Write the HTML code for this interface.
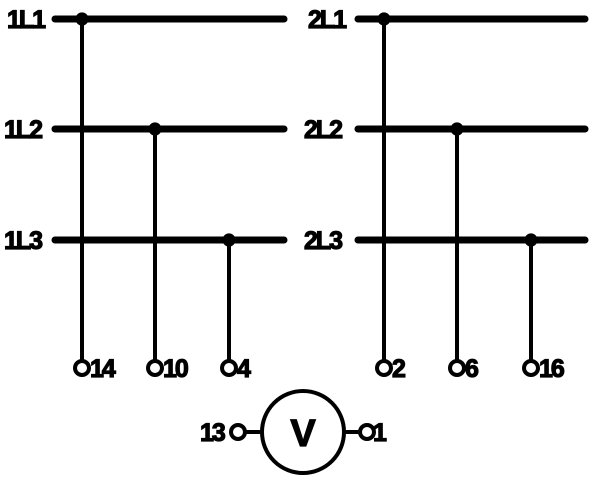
<!DOCTYPE html>
<html><head><style>body{margin:0;background:#fff}</style></head><body>
<svg width="600" height="478" viewBox="0 0 600 478" xmlns="http://www.w3.org/2000/svg" font-family="Liberation Sans, sans-serif" font-weight="bold" font-size="25">
<g stroke="#000" stroke-linecap="round" fill="none">
<line x1="55" y1="19" x2="284" y2="19" stroke-width="7"/>
<line x1="55" y1="129" x2="284" y2="129" stroke-width="7"/>
<line x1="55" y1="240" x2="284" y2="240" stroke-width="7"/>
<line x1="358" y1="19" x2="585" y2="19" stroke-width="7"/>
<line x1="358" y1="129" x2="585" y2="129" stroke-width="7"/>
<line x1="358" y1="240" x2="585" y2="240" stroke-width="7"/>
<g stroke-width="4">
<line x1="82" y1="19" x2="82" y2="361"/>
<line x1="155" y1="129" x2="155" y2="361"/>
<line x1="229" y1="240" x2="229" y2="361"/>
<line x1="384" y1="19" x2="384" y2="361"/>
<line x1="457" y1="129" x2="457" y2="361"/>
<line x1="531" y1="240" x2="531" y2="361"/>
<circle cx="82" cy="368" r="7"/><circle cx="155" cy="368" r="7"/><circle cx="229" cy="368" r="7"/>
<circle cx="384" cy="368" r="7"/><circle cx="457" cy="368" r="7"/><circle cx="531" cy="368" r="7"/>
<circle cx="303" cy="432" r="41"/>
<circle cx="238" cy="432" r="7"/><circle cx="367" cy="432" r="7"/>
<line x1="245" y1="432" x2="262" y2="432"/><line x1="344" y1="432" x2="360" y2="432"/>
</g></g>
<g fill="#000" stroke="#000" stroke-width="1.2">
<circle cx="82" cy="19" r="6"/><circle cx="155" cy="129" r="6"/><circle cx="229" cy="240" r="6"/>
<circle cx="384" cy="19" r="6"/><circle cx="457" cy="129" r="6"/><circle cx="531" cy="240" r="6"/>
<text x="7" y="28" letter-spacing="-2">1L1</text>
<text x="4" y="138" letter-spacing="-2">1L2</text>
<text x="4" y="249" letter-spacing="-2">1L3</text>
<text x="308" y="28" letter-spacing="-2">2L1</text>
<text x="304" y="138" letter-spacing="-2">2L2</text>
<text x="304" y="249" letter-spacing="-2">2L3</text>
<text x="90" y="377" letter-spacing="-2">14</text>
<text x="163" y="377" letter-spacing="-2">10</text>
<text x="237" y="377">4</text>
<text x="392" y="377">2</text>
<text x="465" y="377">6</text>
<text x="539" y="377" letter-spacing="-2">16</text>
<text x="200" y="441" letter-spacing="-2">13</text>
<text x="373" y="441">1</text>
<text x="303" y="446" text-anchor="middle" font-size="38">V</text>
</g>
</svg>
</body></html>
